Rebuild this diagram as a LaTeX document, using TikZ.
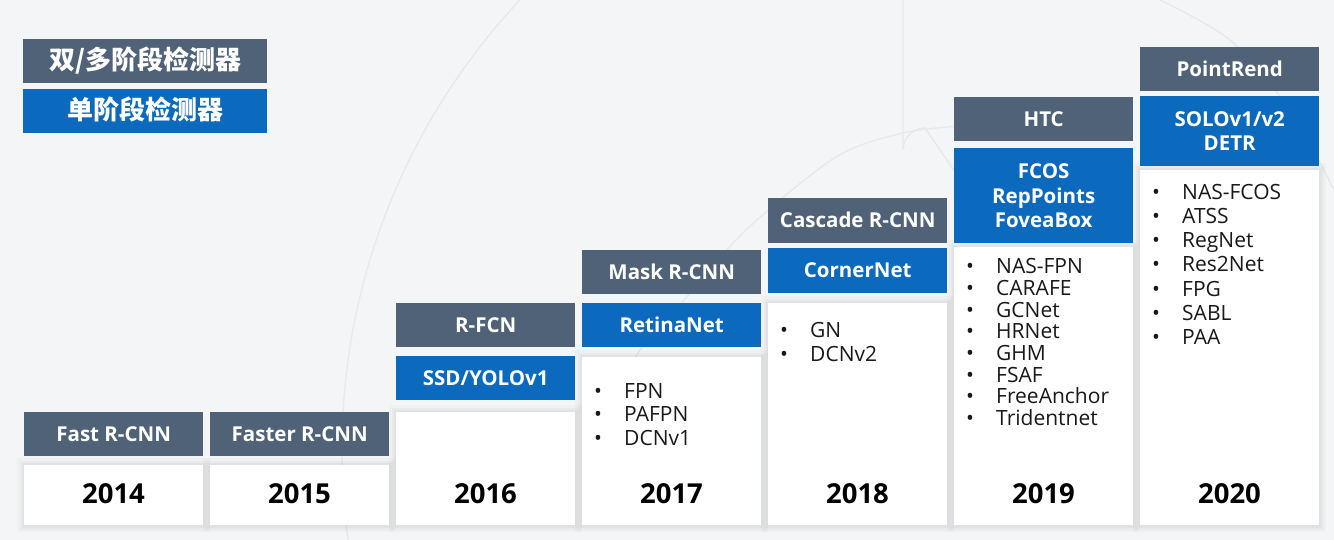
\documentclass[tikz,border=0pt]{standalone}
\usepackage{fontspec}
\setmainfont{Open Sans}
\newfontfamily\cjkfont{Noto Sans CJK SC}
\definecolor{bggray}{RGB}{244,245,246}
\definecolor{slate}{RGB}{80,98,120}
\definecolor{mblue}{RGB}{11,106,190}
\definecolor{arcgray}{RGB}{230,232,234}
\definecolor{txtc}{RGB}{25,25,25}
\tikzset{
  boxbase/.style={anchor=north west, minimum width=179pt, inner sep=0pt, text=white,
    align=center, font=\bfseries\fontsize{20.5}{24.5}\selectfont},
  graybox/.style={boxbase, fill=slate},
  bluebox/.style={boxbase, fill=mblue},
  oneline/.style={text height=14.6pt, text depth=0pt},
  card/.style={anchor=north west, minimum width=179pt, inner sep=0pt, fill=white,
    preaction={draw=black, draw opacity=0.018, line width=14pt},
    preaction={draw=black, draw opacity=0.025, line width=9pt},
    preaction={draw=black, draw opacity=0.03, line width=5pt}},
  yearlbl/.style={font=\bfseries\fontsize{27.5}{30}\selectfont, text=black, inner sep=0pt},
  itemlbl/.style={anchor=base west, inner sep=0pt, text=txtc, font=\fontsize{21}{22}\selectfont},
  legendtxt/.style={font=\cjkfont\bfseries\fontsize{26}{28}\selectfont},
}
\newcommand{\bl}[1]{\makebox[30pt][l]{\textbullet}#1}
\begin{document}
\begin{tikzpicture}[x=1pt,y=-1pt]
\useasboundingbox (0,0) rectangle (1334,540);
\fill[bggray] (0,0) rectangle (1334,540);
\begin{scope}
\clip (0,0) rectangle (1334,540);
\draw[arcgray, line width=1.3pt] (1000,450) circle[radius=658];
\draw[arcgray, line width=1.3pt] plot[smooth] coordinates {(600,420) (640,350) (684,300) (746,230) (836,157) (903,133) (960,126)};
\draw[arcgray, line width=1.3pt] (903,0) -- (903,150) arc[start angle=180, end angle=270, radius=22] -- (955,172);
\draw[arcgray, line width=1.3pt] plot[smooth] coordinates {(1160,0) (1230,40) (1290,110) (1334,190)};
\end{scope}

% legend
\node[graybox, minimum width=244pt, minimum height=44pt, legendtxt, text height=19pt, text depth=2pt] (leg1) at (23,39) {双/多阶段检测器};
\node[bluebox, minimum width=244pt, minimum height=44pt, legendtxt, text height=19pt, text depth=2pt] (leg2) at (23,89) {单阶段检测器};

% cards
\node[card, minimum height=60pt]  (c14) at (24,465) {};
\node[card, minimum height=60pt]  (c15) at (210,465) {};
\node[card, minimum height=113pt] (c16) at (396,412) {};
\node[card, minimum height=168pt] (c17) at (582,357) {};
\node[card, minimum height=222pt] (c18) at (768,303) {};
\node[card, minimum height=278pt] (c19) at (954,247) {};
\node[card, minimum height=355pt] (c20) at (1140,170) {};

% years
\node[yearlbl] (y14) at (113.5,494) {2014};
\node[yearlbl] (y15) at (299.5,494) {2015};
\node[yearlbl] (y16) at (485.5,494) {2016};
\node[yearlbl] (y17) at (671.5,494) {2017};
\node[yearlbl] (y18) at (857.5,494) {2018};
\node[yearlbl] (y19) at (1043.5,494) {2019};
\node[yearlbl] (y20) at (1229.5,494) {2020};

% method boxes
\node[graybox, oneline, minimum height=44pt] (g14) at (24,412) {Fast R-CNN};
\node[graybox, oneline, minimum height=44pt] (g15) at (210,412) {Faster R-CNN};
\node[graybox, oneline, minimum height=44pt] (g16) at (396,303) {R-FCN};
\node[bluebox, oneline, minimum height=44pt] (b16) at (396,356) {SSD/YOLOv1};
\node[graybox, oneline, minimum height=44pt] (g17) at (582,250) {Mask R-CNN};
\node[bluebox, oneline, minimum height=44pt] (b17) at (582,303) {RetinaNet};
\node[graybox, oneline, minimum height=45pt] (g18) at (768,198) {Cascade R-CNN};
\node[bluebox, oneline, minimum height=45pt] (b18) at (768,248) {CornerNet};
\node[graybox, oneline, minimum height=44pt] (g19) at (954,97) {HTC};
\node[bluebox, minimum height=95pt] (b19) at (954,148) {FCOS\\RepPoints\\FoveaBox};
\node[graybox, oneline, minimum height=44pt] (g20) at (1140,47) {PointRend};
\node[bluebox, minimum height=70pt] (b20) at (1140,96) {SOLOv1/v2\\DETR};

% bullet lists
\foreach \t [count=\i] in {FPN,PAFPN,DCNv1}
  \node[itemlbl] (l17-\i) at (594,{398+(\i-1)*23.7}) {\bl{\t}};
\foreach \t [count=\i] in {GN,DCNv2}
  \node[itemlbl] (l18-\i) at (780,{337+(\i-1)*24}) {\bl{\t}};
\foreach \t [count=\i] in {NAS-FPN,CARAFE,GCNet,HRNet,GHM,FSAF,FreeAnchor,Tridentnet}
  \node[itemlbl] (l19-\i) at (966,{274+(\i-1)*21.6}) {\bl{\t}};
\foreach \t [count=\i] in {NAS-FCOS,ATSS,RegNet,Res2Net,FPG,SABL,PAA}
  \node[itemlbl] (l20-\i) at (1152,{200+(\i-1)*24}) {\bl{\t}};
\end{tikzpicture}
\end{document}
